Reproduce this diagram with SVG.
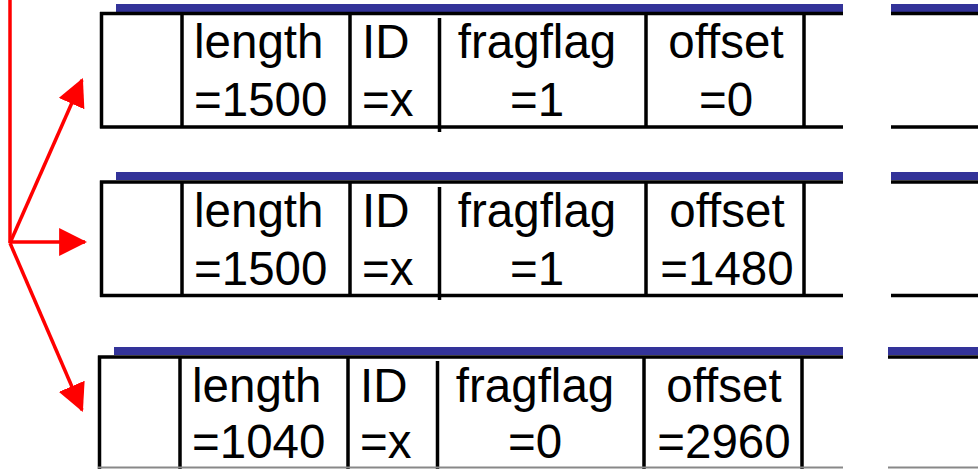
<svg xmlns="http://www.w3.org/2000/svg" width="978" height="469" viewBox="0 0 978 469">
<style>
.bar{fill:#333399}
.ln{stroke:#000;stroke-width:3.5;fill:none}
.t{font-family:"Liberation Sans",Arial,sans-serif;font-size:47.5px;fill:#000}
.c{text-anchor:middle}
.arr{stroke:#FF0000;stroke-width:3.5;fill:none}
</style>
<defs>
<marker id="ah" markerUnits="userSpaceOnUse" markerWidth="28" markerHeight="28" viewBox="0 0 26 26" refX="24" refY="13" orient="auto">
<path d="M0,0 L26,13 L0,26 Z" fill="#FF0000"/>
</marker>
</defs>
<g id="row1">
<rect class="bar" x="116" y="4" width="727" height="8"/>
<rect class="bar" x="891" y="4" width="87" height="8"/>
<path class="ln" d="M100,13.5 H843 M100,127 H843 M101.5,12 V128.5 M182,13.5 V127 M350,13.5 V127 M439.5,18 V132 M646,13.5 V127 M804,13.5 V127 M891,13.5 H978 M891,127 H978"/>
<text class="t" x="194" y="58">length</text>
<text class="t" x="194" y="116">=1500</text>
<text class="t" x="362" y="58">ID</text>
<text class="t" x="362" y="116">=x</text>
<text class="t c" x="537" y="58">fragflag</text>
<text class="t c" x="537" y="116">=1</text>
<text class="t c" x="726" y="58">offset</text>
<text class="t c" x="726" y="116">=0</text>
</g>
<g id="row2">
<rect class="bar" x="116" y="172" width="727" height="8"/>
<rect class="bar" x="891" y="172" width="87" height="8"/>
<path class="ln" d="M100,182 H843 M100,295.5 H843 M101.5,180.5 V297 M182,182 V295.5 M350,182 V295.5 M439.5,187 V300 M646,182 V295.5 M804,182 V295.5 M891,182 H978 M891,295.5 H978"/>
<text class="t" x="194" y="227">length</text>
<text class="t" x="194" y="285">=1500</text>
<text class="t" x="362" y="227">ID</text>
<text class="t" x="362" y="285">=x</text>
<text class="t c" x="537" y="227">fragflag</text>
<text class="t c" x="537" y="285">=1</text>
<text class="t c" x="727" y="227">offset</text>
<text class="t c" x="727" y="285">=1480</text>
</g>
<g id="row3">
<rect class="bar" x="114" y="347" width="729" height="8"/>
<rect class="bar" x="888" y="347" width="90" height="8"/>
<path class="ln" d="M98,357 H843 M99.5,355.5 V469 M180,357 V469 M348,357 V469 M437.5,361 V469 M644,357 V469 M802,357 V469 M888,357 H978"/>
<path d="M98,467.5 H843 M888,467.5 H978" stroke="#888" stroke-width="2"/>
<text class="t" x="192" y="402">length</text>
<text class="t" x="192" y="458">=1040</text>
<text class="t" x="360" y="402">ID</text>
<text class="t" x="360" y="458">=x</text>
<text class="t c" x="535" y="402">fragflag</text>
<text class="t c" x="535" y="458">=0</text>
<text class="t c" x="724" y="402">offset</text>
<text class="t c" x="724" y="458">=2960</text>
</g>
<g id="connectors">
<path class="arr" d="M10,0 V243"/>
<path class="arr" d="M10,243 L82,80" marker-end="url(#ah)"/>
<path class="arr" d="M10,242 H85" marker-end="url(#ah)"/>
<path class="arr" d="M10,243 L82,410" marker-end="url(#ah)"/>
</g>
</svg>
